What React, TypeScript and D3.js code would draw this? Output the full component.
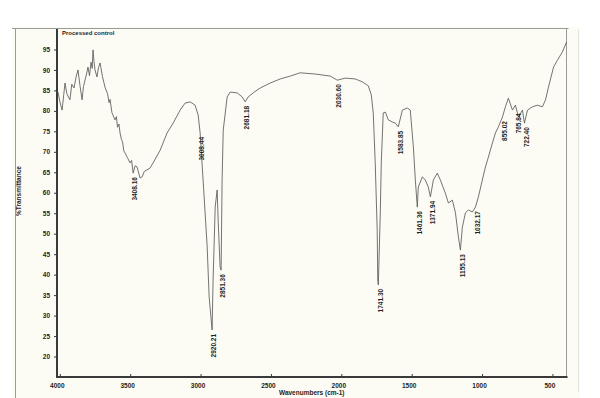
import { useEffect, useRef } from "react";
import * as d3 from "d3";

const WIDTH = 600;
const HEIGHT = 398;
const MARGIN = { top: 29, right: 34, bottom: 21, left: 57 };
const FONT = "Liberation Sans, Arial, sans-serif";
const LINE_COLOR = "#5a5a5a";
const AXIS_COLOR = "#3a3a3a";
const FRAME_COLOR = "#9a9a9a";
const PAPER = "#fcfcf4";
const TEXT_COLOR = "#1e1e1e";

const TITLE = "Processed control";
const X_TITLE = "Wavenumbers (cm-1)";
const Y_TITLE = "%Transmittance";

const X_TICKS = [4000, 3500, 3000, 2500, 2000, 1500, 1000, 500];
const Y_TICKS = [95, 90, 85, 80, 75, 70, 65, 60, 55, 50, 45, 40, 35, 30, 25, 20];

// spectrum, wavenumber (cm-1) / %T
const SPECTRUM_WN = [
  4013, 3998, 3984, 3972, 3963, 3950, 3928, 3915, 3899, 3885, 3871, 3856, 3842,
  3832, 3821, 3810, 3800, 3789, 3778, 3770, 3764, 3757, 3750, 3736, 3725, 3714,
  3697, 3679, 3661, 3650, 3643, 3630, 3608, 3598, 3590, 3580, 3572, 3562, 3554,
  3545, 3536, 3520, 3501, 3490, 3479, 3465, 3451, 3430, 3415, 3400, 3380, 3360,
  3337, 3287, 3238, 3195, 3145, 3110, 3074, 3039, 3017, 3003, 2982, 2953,
  2939, 2918, 2911, 2896, 2882, 2875, 2861, 2854, 2847, 2839, 2811, 2790, 2740,
  2704, 2683, 2662, 2626, 2576, 2505, 2434, 2363, 2292, 2185, 2078, 2029, 1972,
  1901, 1851, 1808, 1787, 1773, 1759, 1745, 1741, 1737, 1723, 1716, 1702, 1687,
  1666, 1638, 1616, 1595, 1566, 1531, 1510, 1488, 1474, 1460, 1453, 1424, 1403,
  1382, 1367, 1346, 1318, 1296, 1261, 1239, 1211, 1189, 1168, 1154, 1140, 1118,
  1097, 1069, 1047, 1026, 998, 976, 955, 926, 905, 884, 855, 834, 813, 784, 763,
  741, 713, 699, 677, 642, 606, 571, 549, 528, 492, 464, 429, 400,
];
const SPECTRUM_T = [
  84.6, 82.0, 80.2, 84.0, 86.8, 84.2, 82.7, 86.5, 85.6, 88.2, 90.0, 86.0, 82.7,
  85.9, 87.5, 89.0, 90.7, 88.6, 91.9, 90.4, 94.9, 92.0, 90.0, 88.3, 90.6, 91.7,
  88.4, 85.8, 84.2, 82.0, 82.8, 79.6, 77.8, 78.6, 76.0, 76.8, 74.6, 73.0, 72.4,
  70.2, 69.7, 68.6, 67.3, 67.9, 64.8, 66.6, 66.3, 63.6, 63.9, 65.2, 65.6, 66.0,
  67.3, 70.4, 74.6, 77.0, 80.2, 81.9, 82.2, 81.4, 79.0, 74.6, 63.1, 46.8,
  34.5, 26.5, 38.7, 56.5, 60.7, 53.3, 41.9, 41.1, 63.1, 75.3, 83.4, 84.6, 84.4,
  83.4, 82.2, 83.4, 84.4, 85.6, 86.8, 87.8, 88.5, 89.3, 89.0, 88.5, 87.5, 88.0,
  87.8, 87.1, 86.1, 83.9, 79.5, 67.3, 50.9, 38.7, 37.5, 55.1, 67.3, 79.5, 79.7,
  77.8, 77.3, 77.0, 76.1, 80.2, 80.7, 80.2, 71.2, 63.1, 56.5, 61.4, 63.9, 63.1,
  61.4, 59.0, 63.1, 64.8, 63.1, 59.9, 57.5, 58.2, 55.1, 49.2, 46.0, 51.6, 55.1,
  55.8, 55.3, 56.5, 59.0, 63.1, 66.3, 68.7, 72.2, 74.6, 76.1, 78.5, 81.0, 83.1,
  80.2, 81.4, 78.5, 80.2, 77.0, 80.2, 81.0, 81.4, 81.0, 82.7, 85.8, 90.7, 92.4,
  94.4, 96.8,
];

const PEAK_WN = [3479, 3003, 2918, 2854, 2683, 2029, 1737, 1595, 1460, 1367, 1154, 1047, 855, 755, 699];
const PEAK_LABELS = [
  "3408.16", "3008.44", "2920.21", "2851.36", "2681.18", "2030.60", "1741.30",
  "1583.85", "1461.36", "1371.94", "1155.13", "1032.17", "855.02", "765.84", "722.40",
];

export default function App() {
  const svgRef = useRef<SVGSVGElement>(null);

  useEffect(() => {
    if (!svgRef.current) return;
    const svg = d3.select(svgRef.current);
    svg.selectAll("*").remove();

    const x0 = MARGIN.left;
    const x1 = WIDTH - MARGIN.right + 0.5;
    const y0 = MARGIN.top;
    const y1 = HEIGHT - MARGIN.bottom;

    const xScale = d3.scaleLinear().domain([4020, 400]).range([x0, x1]);
    const yScale = d3.scaleLinear().domain([15, 100]).range([y1, y0]);

    svg.append("rect").attr("width", WIDTH).attr("height", HEIGHT).attr("fill", "#ffffff");
    svg
      .append("rect")
      .attr("x", 12)
      .attr("y", 27)
      .attr("width", 568)
      .attr("height", HEIGHT - 27)
      .attr("fill", PAPER);

    // outer frame
    svg.append("line").attr("x1", 12).attr("x2", x1 + 2).attr("y1", 28.5).attr("y2", 28.5)
      .attr("stroke", FRAME_COLOR).attr("stroke-width", 1.2);
    svg.append("line").attr("x1", 15.5).attr("x2", 15.5).attr("y1", 28).attr("y2", HEIGHT)
      .attr("stroke", FRAME_COLOR).attr("stroke-width", 1);
    svg.append("line").attr("x1", 578.5).attr("x2", 578.5).attr("y1", 30).attr("y2", 392)
      .attr("stroke", "#e2e2da").attr("stroke-width", 1);
    svg.append("line").attr("x1", x1).attr("x2", x1).attr("y1", y0).attr("y2", y1)
      .attr("stroke", FRAME_COLOR).attr("stroke-width", 1);

    // y axis
    svg
      .append("g")
      .attr("transform", `translate(${x0},0)`)
      .call(d3.axisLeft(yScale).tickValues(Y_TICKS).tickSize(3).tickPadding(4))
      .call((g) => g.select(".domain").remove())
      .call((g) => g.selectAll(".tick line").attr("stroke", AXIS_COLOR))
      .call((g) =>
        g
          .selectAll(".tick text")
          .attr("fill", TEXT_COLOR)
          .style("font-family", FONT)
          .style("font-size", "6.5px")
          .style("font-weight", "bold")
      );

    // x axis
    svg
      .append("g")
      .attr("transform", `translate(0,${y1})`)
      .call(
        d3
          .axisBottom(xScale)
          .tickValues(X_TICKS)
          .tickFormat(d3.format("d"))
          .tickSize(-3)
          .tickPadding(6)
      )
      .call((g) => g.select(".domain").remove())
      .call((g) => g.selectAll(".tick line").attr("stroke", AXIS_COLOR))
      .call((g) =>
        g
          .selectAll(".tick text")
          .attr("fill", TEXT_COLOR)
          .attr("dx", -3)
          .style("font-family", FONT)
          .style("font-size", "6.5px")
          .style("font-weight", "bold")
      );

    svg.append("line").attr("x1", x0).attr("x2", x0).attr("y1", y0).attr("y2", y1 + 1)
      .attr("stroke", AXIS_COLOR).attr("stroke-width", 2);
    svg.append("line").attr("x1", x0 - 1).attr("x2", x1 + 1).attr("y1", y1).attr("y2", y1)
      .attr("stroke", AXIS_COLOR).attr("stroke-width", 2);

    // spectrum
    const points: [number, number][] = SPECTRUM_WN.map((w, i) => [w, SPECTRUM_T[i]]);
    const line = d3
      .line<[number, number]>()
      .x((d) => xScale(d[0]))
      .y((d) => yScale(d[1]));
    svg
      .append("path")
      .datum(points)
      .attr("d", line)
      .attr("fill", "none")
      .attr("stroke", LINE_COLOR)
      .attr("stroke-width", 0.85)
      .attr("stroke-linejoin", "round");

    // peak labels
    const tAt = (w: number) => {
      const i = SPECTRUM_WN.findIndex((v) => v <= w);
      if (i <= 0) return SPECTRUM_T[0];
      const a = SPECTRUM_WN[i - 1];
      const b = SPECTRUM_WN[i];
      const f = (a - w) / (a - b);
      return SPECTRUM_T[i - 1] + (SPECTRUM_T[i] - SPECTRUM_T[i - 1]) * f;
    };
    PEAK_WN.forEach((w, i) => {
      const px = xScale(w) + 2.5;
      const py = yScale(tAt(w)) + 4;
      svg
        .append("text")
        .attr("transform", `translate(${px},${py}) rotate(-90)`)
        .attr("text-anchor", "end")
        .attr("dominant-baseline", "middle")
        .attr("fill", TEXT_COLOR)
        .style("font-family", FONT)
        .style("font-size", "6.5px")
        .style("font-weight", "bold")
        .text(PEAK_LABELS[i]);
    });

    // titles
    svg
      .append("text")
      .attr("x", x0 + 5)
      .attr("y", y0 + 6)
      .attr("fill", TEXT_COLOR)
      .style("font-family", FONT)
      .style("font-size", "6px")
      .style("font-weight", "bold")
      .text(TITLE);

    svg
      .append("text")
      .attr("x", (x0 + x1) / 2)
      .attr("y", HEIGHT - 3)
      .attr("text-anchor", "middle")
      .attr("fill", TEXT_COLOR)
      .style("font-family", FONT)
      .style("font-size", "6.5px")
      .style("font-weight", "bold")
      .text(X_TITLE);

    svg
      .append("text")
      .attr("transform", `translate(21,${(y0 + y1) / 2 - 12}) rotate(-90)`)
      .attr("text-anchor", "middle")
      .attr("fill", TEXT_COLOR)
      .style("font-family", FONT)
      .style("font-size", "6.5px")
      .style("font-weight", "bold")
      .text(Y_TITLE);
  }, []);

  return (
    <svg
      ref={svgRef}
      width={WIDTH}
      height={HEIGHT}
      style={{ position: "absolute", left: 0, top: 0 }}
    ></svg>
  );
}
